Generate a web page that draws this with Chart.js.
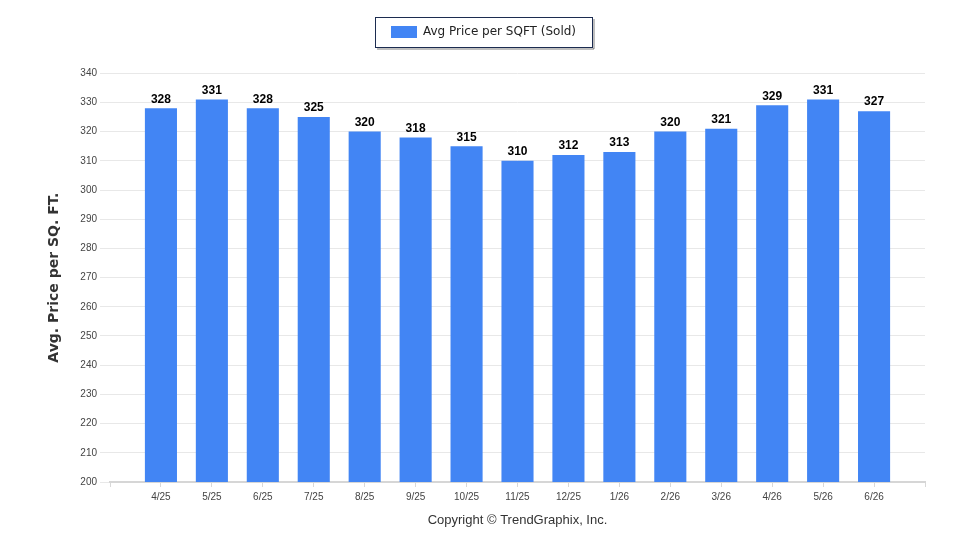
<!DOCTYPE html>
<html>
<head>
<meta charset="utf-8">
<script src="https://cdn.jsdelivr.net/npm/chart.js@4"></script>
<style>
  html, body { margin: 0; padding: 0; background: #fff; }
  #wrap { width: 960px; height: 550px; }
</style>
</head>
<body>
<div id="wrap"><canvas id="price-chart"></canvas></div>
<script>
// months shown on the x axis (blank slots at each end keep the empty margins)
const months = ['4/25', '5/25', '6/25', '7/25', '8/25', '9/25', '10/25', '11/25', '12/25', '1/26', '2/26', '3/26', '4/26', '5/26', '6/26'];
const avgPrice = [328, 331, 328, 325, 320, 318, 315, 310, 312, 313, 320, 321, 329, 331, 327];
const yMin = 200;
const yMax = 340;
const yStep = 10;

const labels = [''].concat(months, ['']);
const values = [null].concat(avgPrice, [null]);

const ctx = document.getElementById('price-chart').getContext('2d');

// numbers on top of the bars
const barValues = {
  id: 'barValues',
  afterDatasetsDraw(chart) {
    const meta = chart.getDatasetMeta(0);
    const c = chart.ctx;
    c.save();
    c.font = 'bold 12px "Liberation Sans"';
    c.fillStyle = '#000';
    c.textAlign = 'center';
    c.textBaseline = 'bottom';
    meta.data.forEach((bar, i) => {
      const v = values[i];
      if (v == null) return;
      c.fillText(v, bar.x, bar.y - 3);
    });
    c.restore();
  }
};

// framed legend box with a little shadow
const legendFrame = {
  id: 'legendFrame',
  afterDraw(chart) {
    const hb = chart.legend.legendHitBoxes[0];
    if (!hb) return;
    const c = chart.ctx;
    const x = Math.round(hb.left - 16) + 0.5;
    const y = Math.round(hb.top - 9) + 0.5;
    const w = Math.round(hb.width + 32);
    const h = Math.round(hb.height + 18);
    c.save();
    c.fillStyle = 'rgba(0,0,0,0.25)';
    c.fillRect(x + 1.5, y + h + 0.5, w, 2);
    c.fillRect(x + w + 0.5, y + 1.5, 2, h);
    c.strokeStyle = '#1c2c50';
    c.lineWidth = 1;
    c.strokeRect(x, y, w, h);
    c.restore();
  }
};

new Chart(ctx, {
  type: 'bar',
  data: {
    labels: labels,
    datasets: [
      {
        label: 'Avg Price per SQFT (Sold)',
        data: values,
        backgroundColor: '#4285f4',
        borderWidth: 0,
        categoryPercentage: 1,
        barPercentage: 0.63
      }
    ]
  },
  options: {
    responsive: true,
    maintainAspectRatio: false,
    animation: false,
    layout: { padding: { left: 42, right: 35, top: 16, bottom: 0 } },
    plugins: {
      tooltip: { enabled: false },
      legend: {
        display: true,
        position: 'top',
        labels: {
          boxWidth: 26,
          boxHeight: 12,
          padding: 10,
          color: '#222',
          font: { family: '"DejaVu Sans"', size: 12 }
        }
      },
      // empty title used as a spacer between the legend and the plot
      title: {
        display: true,
        text: '',
        weight: 500,
        font: { size: 1 },
        padding: { top: 0, bottom: 24 }
      }
    },
    scales: {
      x: {
        offset: false,
        grid: {
          offset: false,
          drawOnChartArea: false,
          drawTicks: true,
          tickLength: 5,
          color: '#d8d8d8'
        },
        border: { display: true, color: '#d6d6d6', width: 2 },
        ticks: {
          color: '#444',
          padding: 4,
          autoSkip: false,
          maxRotation: 0,
          font: { family: '"Liberation Sans"', size: 10 }
        },
        title: {
          display: true,
          text: 'Copyright © TrendGraphix, Inc.',
          color: '#333',
          padding: { top: 10, bottom: 22 },
          font: { family: '"Liberation Sans"', size: 13 }
        },
        afterFit(scale) { scale.height = 68; }
      },
      y: {
        min: yMin,
        max: yMax,
        grid: {
          color: '#e8e8e8',
          drawTicks: true,
          tickLength: 10
        },
        border: { display: false },
        ticks: {
          stepSize: yStep,
          color: '#444',
          padding: 3,
          font: { family: '"Liberation Sans"', size: 10 }
        },
        title: {
          display: true,
          text: 'Avg. Price per SQ. FT.',
          color: '#333',
          padding: 4,
          font: { family: '"DejaVu Sans"', size: 14, weight: 'bold' }
        },
        afterFit(scale) { scale.width = 68; }
      }
    }
  },
  plugins: [barValues, legendFrame]
});
</script>
</body>
</html>
